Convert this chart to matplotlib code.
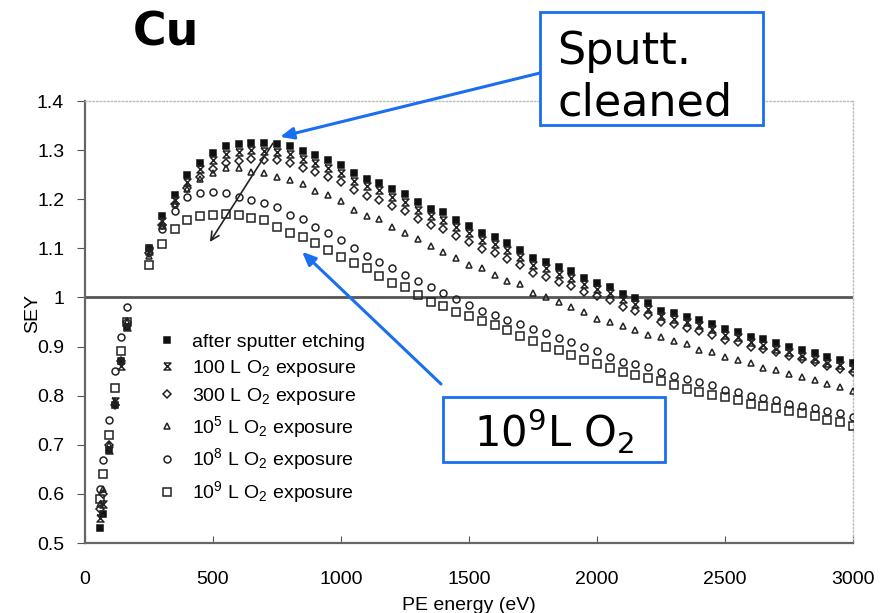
import matplotlib
matplotlib.use("Agg")
import matplotlib.pyplot as plt
from matplotlib.path import Path
from matplotlib.patches import Rectangle
from matplotlib.ticker import MultipleLocator, FuncFormatter

plt.rcParams['font.family'] = ['Liberation Sans', 'DejaVu Sans']
plt.rcParams['mathtext.default'] = 'regular'

# low energy part (eV)
e_low = [60, 70, 95, 118, 142, 166]
# 250 .. 3000 eV
e_high = [250, 300, 350, 400, 450, 500, 550, 600, 650, 700, 750, 800, 850, 900, 950,
          1000, 1050, 1100, 1150, 1200, 1250, 1300, 1350, 1400, 1450, 1500, 1550, 1600,
          1650, 1700, 1750, 1800, 1850, 1900, 1950, 2000, 2050, 2100, 2150, 2200, 2250,
          2300, 2350, 2400, 2450, 2500, 2550, 2600, 2650, 2700, 2750, 2800, 2850, 2900,
          2950, 3000]

sputter_low = [0.53, 0.56, 0.69, 0.78, 0.87, 0.94]
sputter = [1.100, 1.165, 1.209, 1.249, 1.274, 1.294, 1.308, 1.313, 1.315, 1.314, 1.313,
           1.308, 1.298, 1.290, 1.280, 1.270, 1.253, 1.241, 1.234, 1.220, 1.210, 1.194,
           1.180, 1.173, 1.158, 1.146, 1.131, 1.123, 1.110, 1.097, 1.080, 1.072, 1.061,
           1.053, 1.039, 1.029, 1.021, 1.007, 0.998, 0.988, 0.972, 0.968, 0.961, 0.954,
           0.946, 0.935, 0.930, 0.920, 0.915, 0.907, 0.900, 0.892, 0.886, 0.878, 0.873,
           0.867]

o2_100_low = [0.55, 0.58, 0.69, 0.79, 0.86, 0.94]
o2_100 = [1.095, 1.155, 1.198, 1.236, 1.262, 1.280, 1.293, 1.297, 1.300, 1.298, 1.297,
          1.292, 1.282, 1.274, 1.264, 1.254, 1.238, 1.226, 1.218, 1.204, 1.194, 1.178,
          1.165, 1.158, 1.143, 1.131, 1.117, 1.109, 1.096, 1.083, 1.067, 1.059, 1.048,
          1.040, 1.027, 1.017, 1.009, 0.996, 0.987, 0.977, 0.962, 0.957, 0.950, 0.943,
          0.935, 0.924, 0.919, 0.909, 0.904, 0.896, 0.889, 0.881, 0.875, 0.867, 0.862,
          0.856]

o2_300_low = [0.57, 0.60, 0.70, 0.78, 0.87, 0.95]
o2_300 = [1.090, 1.148, 1.190, 1.222, 1.246, 1.262, 1.274, 1.278, 1.281, 1.280, 1.279,
          1.274, 1.264, 1.256, 1.246, 1.236, 1.219, 1.207, 1.199, 1.186, 1.176, 1.160,
          1.147, 1.140, 1.125, 1.113, 1.099, 1.091, 1.078, 1.066, 1.050, 1.042, 1.032,
          1.024, 1.011, 1.002, 0.994, 0.981, 0.973, 0.964, 0.949, 0.945, 0.938, 0.932,
          0.924, 0.914, 0.910, 0.900, 0.896, 0.888, 0.881, 0.874, 0.868, 0.860, 0.855,
          0.849]

o2_1e5_low = [0.58, 0.61, 0.70, 0.79, 0.87, 0.95]
o2_1e5 = [1.085, 1.145, 1.190, 1.220, 1.241, 1.254, 1.264, 1.264, 1.256, 1.254, 1.246,
          1.240, 1.230, 1.217, 1.209, 1.196, 1.178, 1.166, 1.159, 1.143, 1.131, 1.119,
          1.104, 1.093, 1.080, 1.066, 1.059, 1.046, 1.034, 1.027, 1.010, 1.000, 0.990,
          0.980, 0.971, 0.957, 0.951, 0.942, 0.934, 0.924, 0.919, 0.912, 0.905, 0.893,
          0.888, 0.879, 0.873, 0.867, 0.857, 0.852, 0.844, 0.837, 0.832, 0.823, 0.817,
          0.810]

o2_1e8_low = [0.61, 0.67, 0.75, 0.85, 0.92, 0.98]
o2_1e8 = [1.100, 1.140, 1.175, 1.205, 1.212, 1.215, 1.212, 1.205, 1.199, 1.193, 1.185,
          1.168, 1.159, 1.144, 1.131, 1.116, 1.100, 1.084, 1.073, 1.059, 1.046, 1.034,
          1.021, 1.010, 0.997, 0.985, 0.973, 0.964, 0.955, 0.946, 0.936, 0.927, 0.917,
          0.910, 0.900, 0.890, 0.879, 0.869, 0.864, 0.858, 0.849, 0.840, 0.833, 0.828,
          0.822, 0.812, 0.808, 0.799, 0.795, 0.791, 0.784, 0.779, 0.774, 0.769, 0.764,
          0.757]

o2_1e9_low = [0.59, 0.64, 0.72, 0.815, 0.89, 0.95]
o2_1e9 = [1.066, 1.108, 1.139, 1.158, 1.166, 1.168, 1.170, 1.168, 1.161, 1.157, 1.144,
          1.131, 1.124, 1.110, 1.097, 1.083, 1.070, 1.059, 1.044, 1.029, 1.022, 1.005,
          0.991, 0.983, 0.971, 0.962, 0.952, 0.943, 0.933, 0.922, 0.911, 0.900, 0.893,
          0.883, 0.873, 0.865, 0.856, 0.849, 0.842, 0.835, 0.829, 0.822, 0.814, 0.808,
          0.801, 0.797, 0.791, 0.784, 0.779, 0.774, 0.769, 0.764, 0.759, 0.751, 0.747,
          0.739]

labels = ['after sputter etching', '100 L O$_2$ exposure', '300 L O$_2$ exposure',
          '10$^5$ L O$_2$ exposure', '10$^8$ L O$_2$ exposure', '10$^9$ L O$_2$ exposure']

# hourglass-like "x" marker
xmark = Path([(-1, 1), (1, 1), (-1, -1), (1, -1), (-1, 1)],
             [Path.MOVETO, Path.LINETO, Path.LINETO, Path.LINETO, Path.LINETO])

series = [
    (sputter_low + sputter, dict(marker='s', ms=4.8, mfc='#111', mec='#111')),
    (o2_100_low + o2_100, dict(marker=xmark, ms=5, mfc='none', mec='#222')),
    (o2_300_low + o2_300, dict(marker='D', ms=4, mfc='none', mec='#222')),
    (o2_1e5_low + o2_1e5, dict(marker='^', ms=5, mfc='none', mec='#222')),
    (o2_1e8_low + o2_1e8, dict(marker='o', ms=5, mfc='none', mec='#222')),
    (o2_1e9_low + o2_1e9, dict(marker='s', ms=5.5, mfc='none', mec='#222')),
]

energy = e_low + e_high

fig = plt.figure(figsize=(8.85, 6.13), dpi=100)
ax = fig.add_axes([85 / 885, 70 / 613, 768 / 885, 442 / 613])

ax.axhline(1.0, color='#555', lw=2, zorder=1)
for (vals, st), lab in zip(series, labels):
    ax.plot(energy, vals, ls='none', mew=1.1, label=lab, zorder=3, **st)

ax.set_xlim(0, 3000)
ax.set_ylim(0.5, 1.4)
ax.xaxis.set_major_locator(MultipleLocator(500))
ax.yaxis.set_major_locator(MultipleLocator(0.1))
ax.yaxis.set_major_formatter(FuncFormatter(lambda v, p: '%g' % round(v, 1)))
ax.tick_params(axis='x', direction='in', length=5, color='#555', labelsize=14, pad=20)
ax.tick_params(axis='y', direction='out', length=6, color='#555', labelsize=14, pad=9)
for s in ['left', 'bottom']:
    ax.spines[s].set_color('#666')
    ax.spines[s].set_linewidth(1.6)
for s in ['top', 'right']:
    ax.spines[s].set_color('#bbb')
    ax.spines[s].set_linestyle(':')
    ax.spines[s].set_linewidth(1.0)

ax.set_xlabel('PE energy (eV)', fontsize=14, labelpad=7)
ax.set_ylabel('SEY', fontsize=14)
ax.yaxis.set_label_coords(-0.057, 0.52)

ax.legend(loc='upper left', bbox_to_anchor=((157 - 85) / 768, (543 - 333) / 442),
          frameon=False, fontsize=14, borderaxespad=0, borderpad=0,
          handlelength=1.0, handletextpad=0.8, labelspacing=0.36)

# overlay in pixel coordinates for the call-out boxes
ov = fig.add_axes([0, 0, 1, 1], zorder=5)
ov.set_xlim(0, 885)
ov.set_ylim(613, 0)
ov.axis('off')
ov.patch.set_alpha(0)

blue = '#1a6ef0'
ov.add_patch(Rectangle((540, 12), 223, 113, fc='white', ec=blue, lw=2))
ov.text(557, 77, 'Sputt.\ncleaned', fontsize=32, family='DejaVu Sans',
        va='center', ha='left', linespacing=1.25)
ov.add_patch(Rectangle((443, 397), 222, 65, fc='white', ec=blue, lw=2))
ov.text(554, 431, '10$^9$L O$_2$', fontsize=30, family='DejaVu Sans',
        va='center', ha='center')
ov.text(166, 33, 'Cu', fontsize=33, family='DejaVu Sans', weight='bold',
        va='center', ha='center')

ax.annotate('', xy=(762, 1.327), xycoords='data', xytext=(540, 73),
            textcoords=ov.transData,
            arrowprops=dict(arrowstyle='-|>,head_length=0.8,head_width=0.35',
                            color=blue, lw=2.2, shrinkA=0, shrinkB=0))
ax.annotate('', xy=(848, 1.093), xycoords='data', xytext=(441, 384),
            textcoords=ov.transData,
            arrowprops=dict(arrowstyle='-|>,head_length=0.8,head_width=0.35',
                            color=blue, lw=2.2, shrinkA=0, shrinkB=0))
ax.annotate('', xy=(488, 1.113), xycoords='data', xytext=(734, 1.314),
            arrowprops=dict(arrowstyle='->,head_length=0.6,head_width=0.3',
                            color='#222', lw=1.2, shrinkA=0, shrinkB=0))

fig.savefig('out.png', dpi=100)
